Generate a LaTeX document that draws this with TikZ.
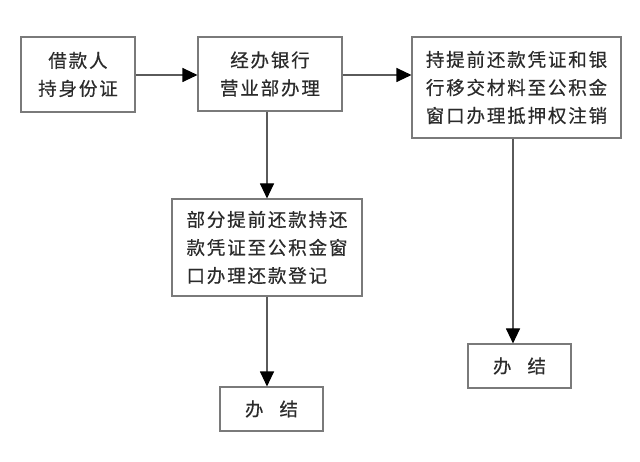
\documentclass[tikz,border=0pt]{standalone}
\usepackage{fontspec}
\newfontfamily\cjk{Noto Sans CJK SC}[LetterSpace=10,FakeBold=0.4]
\usetikzlibrary{arrows.meta}
\definecolor{boxline}{HTML}{7A7A7A}
\definecolor{conn}{HTML}{5A5A5A}
\definecolor{txt}{HTML}{2B2B2B}
\tikzset{
  stepbox/.style={draw=boxline, line width=1.1pt, fill=white, inner sep=0pt,
    text=txt, font=\cjk\fontsize{18.5}{28}\selectfont},
  arr/.style={draw=conn, line width=1.1pt, -{Triangle[length=15pt,width=14pt,color=black]}}
}
\begin{document}
\begin{tikzpicture}[x=1pt,y=-1pt]
\useasboundingbox (0,0) rectangle (640,462);
\node[stepbox, minimum width=114pt, minimum height=75pt, align=center] (b1) at (78,74.5) {借款人\\持身份证};
\node[stepbox, minimum width=144pt, minimum height=74pt, align=center] (b2) at (270,74) {经办银行\\营业部办理};
\node[stepbox, minimum width=209pt, minimum height=101pt, align=left] (b3) at (516.5,87.5) {持提前还款凭证和银\\行移交材料至公积金\\窗口办理抵押权注销};
\node[stepbox, minimum width=190pt, minimum height=97pt, align=left] (b4) at (267,247.5) {部分提前还款持还\\款凭证至公积金窗\\口办理还款登记\hphantom{款}};
\node[stepbox, minimum width=103pt, minimum height=44pt] (b5) at (271.5,409) {办\hspace{16pt}结};
\node[stepbox, minimum width=103pt, minimum height=44pt] (b6) at (519.5,366) {办\hspace{16pt}结};
\draw[arr] (b1.east |- 0,75) -- (b2.west |- 0,75);
\draw[arr] (b2.east |- 0,75) -- (b3.west |- 0,75);
\draw[arr] (b2.south -| b4.north) -- (b4.north);
\draw[arr] (b4.south) -- (b5.north -| b4.south);
\draw[arr] (b3.south -| 513,0) -- (b6.north -| 513,0);
\end{tikzpicture}
\end{document}
